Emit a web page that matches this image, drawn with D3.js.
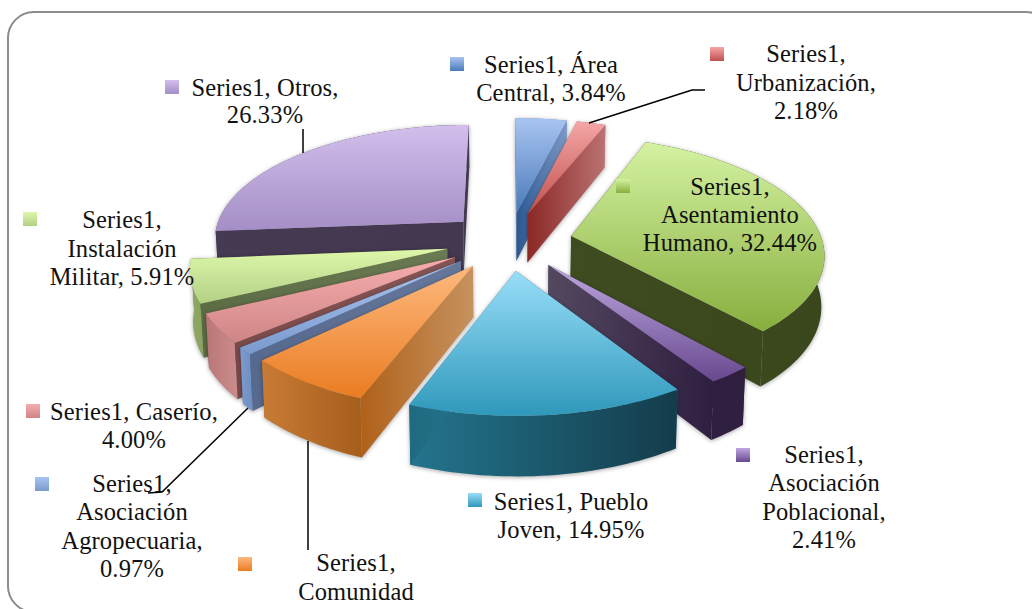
<!doctype html>
<html lang="es">
<head>
<meta charset="utf-8">
<title>Series1</title>
<script src="https://d3js.org/d3.v7.min.js"></script>
<style>
    html, body { margin: 0; padding: 0; background: #fff; overflow: hidden; }
    svg { display: block; }
    text { font-family: "Liberation Serif", serif; font-size: 24.5px; letter-spacing: 0.15px; fill: #111; text-anchor: middle; }
</style>
</head>
<body>
<svg id="chart" width="1032" height="609"></svg>
<script>
const categories = ["Área Central", "Urbanización", "Asentamiento Humano", "Asociación Poblacional", "Pueblo Joven",
    "Comunidad", "Asociación Agropecuaria", "Caserío", "Instalación Militar", "Otros"];
const values = [3.84, 2.18, 32.44, 2.41, 14.95, 6.97, 0.97, 4.00, 5.91, 26.33];

// top face colours, back then front
const topColors = [["#a9c4f2", "#4a7ab8"], ["#f4a6a6", "#c0504d"], ["#d4f2a2", "#88ae3e"], ["#bda8e0", "#68488e"], ["#98def9", "#2f98bb"],
    ["#fdb97e", "#ea7c22"], ["#a9c4f0", "#7a9acd"], ["#f6adad", "#cf8585"], ["#def7aa", "#b3d085"], ["#d2bfec", "#a48ec6"]];
// straight walls, left then right
const wallColors = [["#2b5890", "#7c98c6"], ["#8a2825", "#ba7272"], ["#3f4c20", "#3b481d"], ["#544860", "#2e1e40"], ["#1f6a80", "#2a7a92"],
    ["#b0611a", "#c6925f"], ["#56698e", "#66789a"], ["#7a4b4b", "#865656"], ["#5c6c44", "#6a7a52"], ["#453a52", "#433850"]];
// curved walls, left then right
const outerColors = [["#6a8cc0", "#7c98c6"], ["#a85a58", "#ba7272"], ["#3f4c20", "#3a471c"], ["#2e1e40", "#30203f"], ["#23758e", "#143c4b"],
    ["#c87b36", "#a65e1b"], ["#7b9bce", "#6f8fc2"], ["#b97676", "#cc8c8c"], ["#8fa863", "#8aa35e"], ["#6a5a80", "#453a52"]];

// text lines of each data label (the third Comunidad line falls outside the picture)
const labelLines = [["Series1, Área", "Central, 3.84%"], ["Series1,", "Urbanización,", "2.18%"], ["Series1,", "Asentamiento", "Humano, 32.44%"],
    ["Series1,", "Asociación", "Poblacional,", "2.41%"], ["Series1, Pueblo", "Joven, 14.95%"], ["Series1,", "Comunidad"],
    ["Series1,", "Asociación", "Agropecuaria,", "0.97%"], ["Series1, Caserío,", "4.00%"], ["Series1,", "Instalación", "Militar, 5.91%"], ["Series1, Otros,", "26.33%"]];

// label layout: text centre, first baseline, legend key corner
const labelX = [551, 806, 730, 824, 571, 356, 132, 134, 122, 265];
const labelY = [73, 62, 195, 463, 510, 571, 492, 420, 228, 96];
const lineGaps = [28, 28.5, 28, 28.4, 28, 29, 28.4, 28, 28.5, 27];
const keyX = [450, 710, 616, 736, 468, 238, 35, 26, 23, 165];
const keyY = [57, 47, 179, 448, 493, 557, 477, 404, 212, 80];

// leader lines
const leaders = [
    [[589, 123], [692, 90], [705, 90]],
    [[248, 408], [162, 492], [148, 493]],
    [[308, 441], [308, 550]],
    [[303, 129], [303, 153]]
];

const width = 1032, height = 609;
const cx = 509, cy = 241;
const radius = 0.93, explode = 0.235, tilt = 0.15, wallDepth = 50;

const svg = d3.select("#chart");
const defs = svg.append("defs");

// the frame runs past the right and bottom edges
svg.append("rect")
    .attr("x", 8).attr("y", 12)
    .attr("width", 1044).attr("height", 600)
    .attr("rx", 26).attr("ry", 26)
    .attr("fill", "#fff")
    .attr("stroke", "#8c8c8c")
    .attr("stroke-width", 2);

const xScale = d3.scaleLinear().domain([-1, 1]).range([cx - 270, cx + 270]);
const yScale = d3.scaleLinear().domain([-1, 1]).range([cy - 124, cy + 124]);

// disc coordinates to the picture, with a little perspective towards the front
function project(d, a, r, low) {
    const mid = (d.startAngle + d.endAngle) / 2;
    const u = explode * Math.sin(mid) + r * Math.sin(a);
    const v = -explode * Math.cos(mid) - r * Math.cos(a);
    const s = 1 / (1 - tilt * v);
    const px = xScale(u * s), py = yScale(v * s);
    if (!low) return [px, py];
    return [cx + (px - cx) * 0.99, py + wallDepth * s];
}

function gradient(id, colors, vertical) {
    const g = defs.append("linearGradient").attr("id", id)
        .attr("x1", 0).attr("y1", 0)
        .attr("x2", vertical ? 0 : 1).attr("y2", vertical ? 1 : 0);
    g.append("stop").attr("offset", "0%").attr("stop-color", colors[0]);
    g.append("stop").attr("offset", "100%").attr("stop-color", colors[1]);
    return "url(#" + id + ")";
}

const pie = d3.pie().sort(null).value(d => d);
const line = d3.line();
const slices = pie(values).map(d => {
    const mid = (d.startAngle + d.endAngle) / 2;
    return Object.assign(d, {depth: -Math.cos(mid)});
});

function arcPoints(d, low) {
    const steps = Math.max(4, Math.ceil((d.endAngle - d.startAngle) * 40));
    return d3.range(steps + 1).map(i => project(d, d.startAngle + (d.endAngle - d.startAngle) * i / steps, radius, low));
}

const sliceGroups = svg.selectAll("g.slice")
    .data(slices.slice().sort((a, b) => d3.ascending(a.depth, b.depth)))
    .join("g")
    .attr("class", "slice")
    .style("filter", "drop-shadow(0px 1px 2px rgba(0,0,0,0.35))");

sliceGroups.each(function(d) {
    const g = d3.select(this);
    const i = d.index;
    const wallFill = gradient("wall" + i, wallColors[i]);
    const outerFill = gradient("outer" + i, outerColors[i]);
    const topFill = gradient("top" + i, topColors[i], true);

    const walls = [d.startAngle, d.endAngle].map(a => ({
        angle: a,
        pts: [project(d, a, 0), project(d, a, radius), project(d, a, radius, true), project(d, a, 0, true)]
    })).sort((p, q) => d3.ascending(-Math.cos(p.angle), -Math.cos(q.angle)));

    const outer = arcPoints(d).concat(arcPoints(d, true).reverse());

    // the straight wall further back goes first
    g.append("path").attr("d", line(walls[0].pts) + "Z").attr("fill", wallFill);
    g.append("path").attr("d", line(outer) + "Z").attr("fill", outerFill);
    g.append("path").attr("d", line(walls[1].pts) + "Z").attr("fill", wallFill);

    g.append("path")
        .attr("d", line([project(d, d.startAngle, 0)].concat(arcPoints(d))) + "Z")
        .attr("fill", topFill);
});

svg.selectAll("path.leader")
    .data(leaders)
    .join("path")
    .attr("class", "leader")
    .attr("d", d => line(d))
    .attr("fill", "none")
    .attr("stroke", "#000")
    .attr("stroke-width", 1.5);

// legend keys use the same face colours
svg.selectAll("rect.key")
    .data(categories)
    .join("rect")
    .attr("class", "key")
    .attr("x", (d, i) => keyX[i])
    .attr("y", (d, i) => keyY[i])
    .attr("width", 14).attr("height", 14)
    .attr("fill", (d, i) => gradient("key" + i, topColors[i], true));

const labels = svg.selectAll("text.label")
    .data(categories)
    .join("text")
    .attr("class", "label")
    .attr("x", (d, i) => labelX[i])
    .attr("y", (d, i) => labelY[i]);

labels.each(function(d, i) {
    d3.select(this).selectAll("tspan")
        .data(labelLines[i])
        .join("tspan")
        .attr("x", labelX[i])
        .attr("y", (t, j) => labelY[i] + j * lineGaps[i])
        .text(t => t);
});
</script>
</body>
</html>
